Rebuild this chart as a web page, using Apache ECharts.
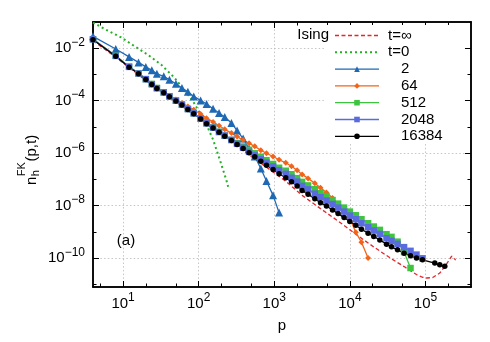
<!DOCTYPE html>
<html><head><meta charset="utf-8">
<script src="https://cdn.jsdelivr.net/npm/echarts@6/dist/echarts.min.js"></script>
<style>html,body{margin:0;padding:0;background:#fff}#c{width:490px;height:342px}</style>
</head><body><div id="c"></div>
<script>
// ---- data ----
const P = [4, 8, 12, 16, 20, 24, 28, 34.5, 41, 50, 60, 72, 86, 106, 127, 155, 186, 221, 271, 322, 387, 464, 552, 663, 788, 964, 1157, 1419, 1689, 2004, 2333, 2800, 3436, 4087, 4900, 5888, 6982, 8375, 9977, 11970, 14230, 17400, 20700, 24900, 30500, 35500, 42700, 52100, 63400, 76000, 91200, 132700, 154500, 180000];

const n16384 = [0.0212, 4.97e-3, 1.90e-3, 1.06e-3, 6.43e-4, 4.16e-4, 2.93e-4, 2.01e-4, 1.42e-4, 9.75e-5, 6.87e-5, 4.68e-5, 3.21e-5, 2.02e-5, 1.34e-5, 9.2e-6, 6.27e-6, 4.42e-6, 3.03e-6, 2.14e-6, 1.51e-6, 1.04e-6, 7.3e-7, 4.97e-7, 3.5e-7, 2.41e-7, 1.65e-7, 1.16e-7, 8.2e-8, 5.6e-8, 3.84e-8, 2.71e-8, 1.86e-8, 1.31e-8, 9.75e-9, 6.87e-9, 5.0e-9, 3.53e-9, 2.49e-9, 1.80e-9, 1.27e-9, 8.97e-10, 6.72e-10, 4.99e-10, 3.43e-10, 2.71e-10, 2.08e-10, 1.56e-10, 1.23e-10, 1.01e-10, 8.7e-11, 6.52e-11, 5.62e-11, 4.89e-11];

const n2048 = [0.0218, 5.1e-3, 1.95e-3, 1.09e-3, 6.6e-4, 4.27e-4, 3.0e-4, 2.07e-4, 1.46e-4, 1.0e-4, 7.05e-5, 4.8e-5, 3.3e-5, 2.08e-5, 1.38e-5, 9.45e-6, 6.43e-6, 4.74e-6, 3.25e-6, 2.29e-6, 1.62e-6, 1.13e-6, 8.32e-7, 5.92e-7, 4.36e-7, 3.13e-7, 2.24e-7, 1.65e-7, 1.16e-7, 8.28e-8, 5.69e-8, 4.19e-8, 2.88e-8, 2.12e-8, 1.57e-8, 1.16e-8, 8.47e-9, 5.97e-9, 4.21e-9, 3.05e-9, 2.15e-9, 1.51e-9, 1.13e-9, 8.43e-10, 5.79e-10, 4.57e-10, 3.52e-10, 2.64e-10, 1.91e-10, 1.37e-10, 9.9e-11];

const n512 = [0.0221, 5.19e-3, 1.99e-3, 1.11e-3, 6.71e-4, 4.35e-4, 3.06e-4, 2.10e-4, 1.48e-4, 1.02e-4, 7.18e-5, 4.89e-5, 3.36e-5, 2.11e-5, 1.40e-5, 9.62e-6, 6.55e-6, 4.61e-6, 3.17e-6, 2.44e-6, 1.80e-6, 1.35e-6, 9.91e-7, 7.36e-7, 5.42e-7, 3.89e-7, 2.79e-7, 2.15e-7, 1.58e-7, 1.12e-7, 8.07e-8, 5.94e-8, 4.27e-8, 3.01e-8, 2.33e-8, 1.64e-8, 1.20e-8, 8.47e-9, 5.97e-9, 4.32e-9, 3.05e-9, 2.15e-9, 1.61e-9, 1.20e-9, 8.22e-10, 6.49e-10, 4.27e-10, 1.71e-10, 4.22e-11];

const n64 = [0.0221, 5.19e-3, 1.99e-3, 1.11e-3, 6.71e-4, 4.42e-4, 3.11e-4, 2.2e-4, 1.55e-4, 1.11e-4, 8.19e-5, 6.08e-5, 4.55e-5, 3.13e-5, 2.17e-5, 1.56e-5, 1.11e-5, 8.15e-6, 5.85e-6, 4.31e-6, 3.17e-6, 2.38e-6, 1.83e-6, 1.30e-6, 1.0e-6, 7.5e-7, 5.62e-7, 4.33e-7, 3.18e-7, 2.26e-7, 1.56e-7, 1.10e-7, 7.21e-8, 4.87e-8, 3.17e-8, 1.96e-8, 1.20e-8, 6.52e-9, 3.24e-9, 9.77e-10, 4.08e-10, 1.01e-10];

const n2 = [0.0285, 9.4e-3, 4.68e-3, 2.89e-3, 1.95e-3, 1.44e-3, 1.06e-3, 8.5e-4, 6.27e-4, 4.42e-4, 3.03e-4, 2.2e-4, 1.46e-4, 1.03e-4, 7.5e-5, 4.97e-5, 3.41e-5, 2.41e-5, 1.42e-5, 7.27e-6, 3.61e-6, 1.47e-6, 7.5e-7, 2.63e-7, 8.8e-8, 2.48e-8, 5.47e-9];

const pT0 = [4, 6.28, 9.4, 14.2, 21.2, 31.8, 47.9, 71.8, 84.4, 103.5, 126.8, 155, 190, 233, 245];
const nT0 = [0.0953, 0.0466, 0.0261, 0.0119, 5.71e-3, 2.39e-3, 7.47e-4, 1.73e-4, 9.4e-5, 3.41e-5, 1.23e-5, 3.31e-6, 5.77e-7, 9.2e-8, 5.31e-8];

const pInf = [4, 8, 16, 24, 34.5, 50, 86, 155, 271, 464, 788, 1419, 2333, 4087, 6982, 11970, 20700, 35500, 52100, 76000, 91200, 104000, 124800, 154500, 185500, 222300, 251000];
const nInf = [0.0194, 4.55e-3, 9.7e-4, 3.81e-4, 1.84e-4, 8.93e-5, 2.94e-5, 8.43e-6, 2.78e-6, 8.69e-7, 2.94e-7, 8.59e-8, 2.48e-8, 7.76e-9, 2.61e-9, 8.22e-10, 2.69e-10, 9.48e-11, 4.8e-11, 2.38e-11, 1.88e-11, 1.76e-11, 1.84e-11, 2.72e-11, 5.47e-11, 1.2e-10, 8.47e-11];

const xMajor = [10, 100, 1000, 10000, 100000];
const xMinor = [5, 20, 50, 200, 500, 2000, 5000, 20000, 50000, 200000];
const yMajor = [1e-10, 1e-8, 1e-6, 1e-4, 1e-2];
const yMinor = [1e-11, 1e-9, 1e-7, 1e-5, 1e-3];

// ---- chart ----
const FF = 'Liberation Sans';
function pairs(xs, ys) { return ys.map((v, i) => [xs[i], v]); }
function expLabel(v) {
  const e = Math.round(Math.log10(v));
  return '{b|10}{s|' + (e < 0 ? '\u2212' + (-e) : e) + '}';
}
const richLab = {
  b: { fontFamily: FF, fontSize: 15, lineHeight: 24, color: '#000' },
  s: { fontFamily: FF, fontSize: 12, lineHeight: 11, verticalAlign: 'top', color: '#000' }
};
const grid = { type: [1.5, 2.2], color: '#b8b8b8', width: 0.8 };

function ax(kind, pos, ticks, len, main) {
  const o = {
    type: 'log', logBase: 10, gridIndex: 0, position: pos,
    min: kind === 'x' ? 4 : 8e-12, max: kind === 'x' ? 4e5 : 0.1,
    axisLine: { show: true, onZero: false, lineStyle: { color: '#000', width: 1.5 } },
    axisTick: { show: true, inside: true, length: len, customValues: ticks, lineStyle: { color: '#000', width: 1 } },
    axisLabel: { show: false },
    splitLine: { show: false },
    minorTick: { show: false }, minorSplitLine: { show: false }
  };
  if (main) {
    o.axisLabel = { show: true, customValues: ticks, margin: kind === 'x' ? 5 : 8, formatter: expLabel, rich: richLab };
    o.splitLine = { show: true, lineStyle: grid };
  }
  return o;
}

function ser(name, xs, ys, color, symbol, size, ltype, lw) {
  return {
    type: 'line', name: name, data: pairs(xs, ys), xAxisIndex: 0, yAxisIndex: 0,
    symbol: symbol, symbolSize: size, showSymbol: symbol !== 'none',
    lineStyle: { color: color, width: lw, type: ltype },
    itemStyle: { color: color },
    emphasis: { disabled: true }, clip: true, animation: false
  };
}

const chart = echarts.init(document.getElementById('c'), null, { renderer: 'canvas' });
chart.setOption({
  animation: false,
  backgroundColor: '#fff',
  textStyle: { fontFamily: FF },
  grid: { left: 93, right: 19, top: 22, bottom: 55, containLabel: false, outerBoundsMode: 'none' },
  xAxis: [
    Object.assign(ax('x', 'bottom', xMajor, 6, true), {
      name: 'p', nameLocation: 'middle', nameGap: 39,
      nameTextStyle: { fontFamily: FF, fontSize: 15, color: '#000', verticalAlign: 'middle' }
    }),
    ax('x', 'bottom', xMinor, 3.5, false),
    ax('x', 'top', xMajor, 6, false),
    ax('x', 'top', xMinor, 3.5, false)
  ],
  yAxis: [
    ax('y', 'left', yMajor, 6, true),
    ax('y', 'left', yMinor, 3.5, false),
    ax('y', 'right', yMajor, 6, false),
    ax('y', 'right', yMinor, 3.5, false)
  ],
  legend: {
    orient: 'vertical', left: 326, top: 25, padding: [3, 22, 0, 8],
    backgroundColor: '#fff', itemWidth: 44, itemHeight: 7, itemGap: 1.8,
    selectedMode: false,
    lineStyle: { width: 'inherit' },
    textStyle: {
      fontFamily: FF, fontSize: 15, color: '#000', lineHeight: 14,
      rich: {
        a: { fontFamily: FF, fontSize: 15, lineHeight: 14, color: '#000', padding: [0, 0, 0, 4] },
        b: { fontFamily: FF, fontSize: 15, lineHeight: 14, color: '#000', padding: [0, 0, 0, 17] }
      }
    },
    formatter: name => /^\d+$/.test(name) ? '{b|' + name + '}' : '{a|' + name + '}',
    data: [
      { name: 't=\u221e', itemStyle: { opacity: 0 }, lineStyle: { type: [4, 2.5] } },
      { name: 't=0', itemStyle: { opacity: 0 }, lineStyle: { type: [2, 3] } },
      '2', '64', '512', '2048', '16384'
    ]
  },
  graphic: [
    { type: 'text', x: 329, y: 34.5, z: 100, style: { text: 'Ising', fill: '#000', font: '15px "Liberation Sans"', align: 'right', verticalAlign: 'middle' } },
    { type: 'text', x: 126, y: 240.5, z: 100, style: { text: '(a)', fill: '#000', font: '15px "Liberation Sans"', align: 'center', verticalAlign: 'middle' } },
    { type: 'group', x: 37, y: 185, rotation: Math.PI / 2, z: 100, children: [
      { type: 'text', x: 0, y: -5, style: { text: 'n', fill: '#000', font: '15px "Liberation Sans"', align: 'left', verticalAlign: 'middle' } },
      { type: 'text', x: 8.8, y: -15.5, style: { text: 'FK', fill: '#000', font: '11px "Liberation Sans"', align: 'left', verticalAlign: 'middle' } },
      { type: 'text', x: 8.8, y: -1, style: { text: 'h', fill: '#000', font: '11px "Liberation Sans"', align: 'left', verticalAlign: 'middle' } },
      { type: 'text', x: 23.5, y: -5, style: { text: '(p,t)', fill: '#000', font: '15px "Liberation Sans"', align: 'left', verticalAlign: 'middle' } }
    ] }
  ],
  series: [
    ser('t=\u221e', pInf, nInf, '#e3262b', 'none', 0, [4, 2.5], 1.3),
    ser('t=0', pT0, nT0, '#22b022', 'none', 0, [2, 3], 2),
    ser('2', P, n2, '#1f68b4', 'triangle', 8, 'solid', 1.3),
    ser('64', P, n64, '#f26419', 'diamond', 6, 'solid', 1.3),
    ser('512', P, n512, '#3ec43e', 'rect', 6.5, 'solid', 1.3),
    ser('2048', P, n2048, '#5a6be0', 'rect', 6.5, 'solid', 1.3),
    ser('16384', P, n16384, '#000000', 'circle', 5.5, 'solid', 1.3)
  ]
});
</script>
</body></html>
